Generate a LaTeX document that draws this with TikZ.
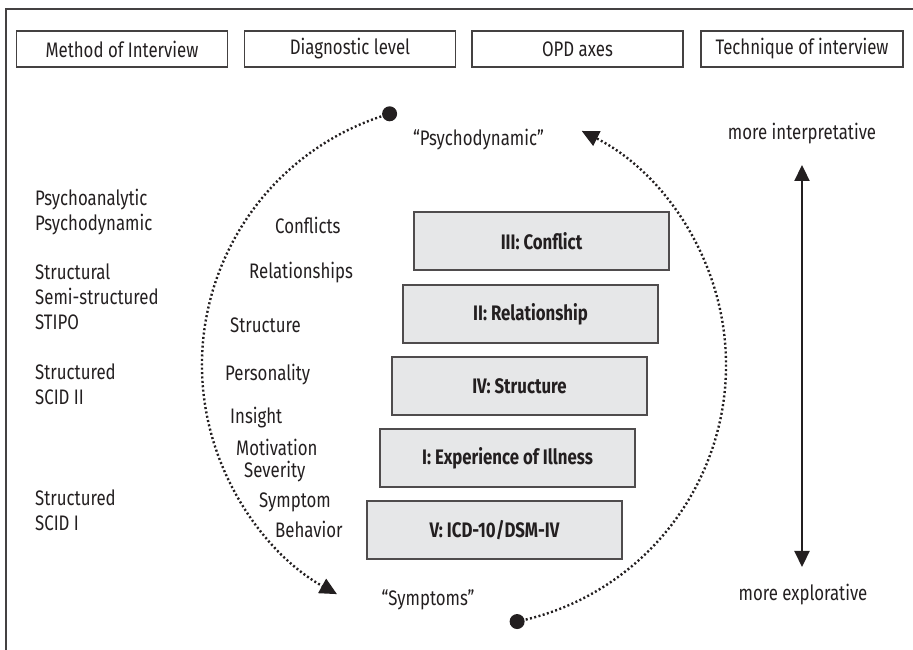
\documentclass[tikz,border=0pt]{standalone}
\usepackage{fontspec}
\setmainfont{Fira Sans}[FakeStretch=0.8]
\usepackage{tikz}
\usetikzlibrary{arrows.meta,positioning,calc}
\newcommand{\bodyfont}{\fontsize{21pt}{25pt}\selectfont}
\definecolor{ink}{HTML}{231F20}
\definecolor{boxgray}{HTML}{E6E7E8}
\tikzset{
  head/.style = {draw=ink!85, line width=1.2pt, minimum width=211pt,
                 minimum height=36pt, inner sep=0pt, font=\bodyfont},
  axis/.style = {draw=ink!80, line width=1.4pt, fill=boxgray, inner sep=0pt,
                 minimum width=255pt, minimum height=58pt, font=\bodyfont\bfseries},
  lbl/.style  = {anchor=west, inner sep=0pt, font=\bodyfont},
  meth/.style = {anchor=west, align=left, inner sep=0pt, font=\bodyfont},
  dot/.style  = {circle, fill=ink, inner sep=0pt, minimum size=15pt},
  cyc/.style  = {-{Triangle[length=17pt,width=16pt]}, line width=2.4pt,
                 dash pattern=on 2pt off 2.4pt, ink},
  dbl/.style  = {{Triangle[length=16pt,width=15pt]}-{Triangle[length=16pt,width=15pt]},
                 line width=2.2pt, ink}
}

\begin{document}
\begin{tikzpicture}[x=1pt,y=1pt,text=ink]
  \useasboundingbox (0,0) rectangle (913,650);
  % open frame
  \draw[ink!85, line width=1.3pt] (6,0) -- (6,641) -- (913,641);

  % header row
  \node[head] (hmeth) at (122,601) {Method of Interview};
  \node[head] (hdiag) at (350,601) {Diagnostic level};
  \node[head] (hopd)  at (577.5,601) {OPD axes\hspace{58pt}};
  \node[head, minimum width=202pt] (htech) at (802,601) {Technique of interview};

  % methods of interview
  \node[meth] (mpsy) at (35,437.5) {Psychoanalytic\\Psychodynamic};
  \node[meth] (mstr) at (35,353) {Structural\\Semi-structured\\STIPO};
  \node[meth] (mscb) at (35,266) {Structured\\SCID II};
  \node[meth] (msca) at (35,139.5) {Structured\\SCID I};

  % diagnostic levels
  \node[lbl] (lconf) at (275,425) {Conflicts};
  \node[lbl] (lrel)  at (249,377) {Relationships};
  \node[lbl] (lstr)  at (230,325) {Structure};
  \node[lbl] (lpers) at (225,275) {Personality};
  \node[lbl] (lins)  at (230,232) {Insight};
  \node[lbl] (lmot)  at (236,203) {Motivation};
  \node[lbl] (lsev)  at (244,178) {Severity};
  \node[lbl] (lsym)  at (259,148) {Symptom};
  \node[lbl] (lbeh)  at (275,121) {Behavior};

  % OPD axes
  \node[axis] (ax3) at (541.5,409) {III: Conflict};
  \node[axis] (ax2) at (530.5,336) {II: Relationship};
  \node[axis] (ax4) at (519.5,264) {IV: Structure};
  \node[axis] (ax1) at (507.5,192) {I: Experience of Illness};
  \node[axis] (ax5) at (494.5,120) {V: ICD-10/DSM-IV};

  % cycle
  \coordinate (cc) at (464,285);
  \node[font=\bodyfont] (psy) at (478.5,510) {“Psychodynamic”};
  \node[font=\bodyfont] (sym) at (428,50) {“Symptoms”};
  \node[dot] (dtop) at ($(cc)+(106.5:262)$) {};
  \node[dot] (dbot) at ($(cc)+(281.7:262)$) {};
  \draw[cyc] (dtop.center) arc[start angle=106.5, end angle=241, radius=262];
  \draw[cyc] (dbot.center) arc[start angle=281.7, end angle=423.3, radius=262];

  % technique of interview
  \node[font=\bodyfont] (tint) at (802,516) {more interpretative};
  \node[font=\bodyfont] (texp) at (803,55) {more explorative};
  \coordinate (tup) at (802,485);
  \coordinate (tdn) at (802,83);
  \draw[dbl] (tdn) -- (tup);
\end{tikzpicture}
\end{document}
